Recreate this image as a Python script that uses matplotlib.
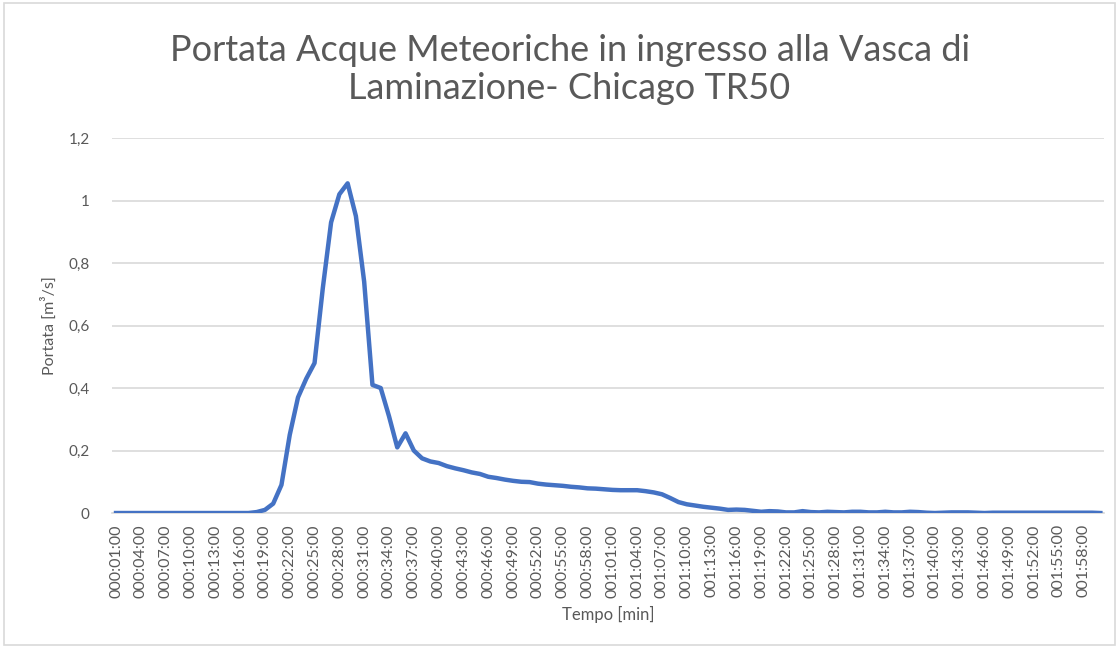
import numpy as np
import matplotlib.pyplot as plt
from matplotlib.ticker import FuncFormatter

# minutes 1..120, values (m3/s)
minuti = list(range(1, 121))
portata = [0.0] * 17 + [
    0.003, 0.010, 0.030, 0.090, 0.250, 0.370, 0.430, 0.480, 0.720, 0.930,   # 18-27
    1.020, 1.055, 0.950, 0.740, 0.410, 0.400, 0.310, 0.210, 0.255, 0.200,   # 28-37
    0.175, 0.165, 0.160, 0.150, 0.143, 0.137, 0.130, 0.125, 0.116, 0.112,   # 38-47
    0.107, 0.103, 0.100, 0.099, 0.094, 0.091, 0.089, 0.087, 0.084, 0.082,   # 48-57
    0.079, 0.078, 0.076, 0.074, 0.073, 0.073, 0.073, 0.070, 0.066, 0.060,   # 58-67
    0.048, 0.035, 0.028, 0.024, 0.020, 0.017, 0.014, 0.010, 0.011, 0.010,   # 68-77
    0.007, 0.004, 0.006, 0.005, 0.002, 0.002, 0.006, 0.003, 0.002, 0.004,   # 78-87
    0.003, 0.002, 0.004, 0.004, 0.002, 0.002, 0.004, 0.002, 0.002, 0.004,   # 88-97
    0.003, 0.001, 0.000, 0.001, 0.002, 0.002, 0.002, 0.001, 0.000, 0.001,   # 98-107
    0.001, 0.001, 0.001, 0.001, 0.001, 0.001, 0.001, 0.001, 0.001, 0.001,   # 108-117
    0.001, 0.001, 0.000,                                                     # 118-120
]
etichette = ["%03d:%02d:00" % (m // 60, m % 60) for m in minuti]

plt.rcParams['font.family'] = ['Lato', 'DejaVu Sans']
grigio = '#595959'

fig = plt.figure(figsize=(11.19, 6.48), dpi=100)
ax = fig.add_axes([0.100, 0.2083, 0.887, 0.5787])

x = np.arange(len(minuti))
ax.plot(x, portata, color='#4472C4', lw=3.2, solid_joinstyle='round', zorder=3)

ax.set_xlim(-0.5, len(minuti) - 0.5)
ax.set_ylim(0, 1.2)
ax.set_yticks(np.arange(0, 1.21, 0.2))
ax.yaxis.set_major_formatter(FuncFormatter(
    lambda v, p: '0' if abs(v) < 1e-9 else ('%g' % round(v, 1)).replace('.', ',')))
ax.set_xticks(x[::3])
ax.set_xticklabels(etichette[::3], rotation=90)

ax.grid(axis='y', color='#D9D9D9', lw=1.2)
ax.set_axisbelow(True)
for s in ['top', 'right', 'left']:
    ax.spines[s].set_visible(False)
ax.spines['bottom'].set_color('#D9D9D9')
ax.spines['bottom'].set_linewidth(1.2)
ax.tick_params(length=0, colors=grigio, labelsize=11)
ax.tick_params(axis='x', labelsize=11.5, pad=8)
ax.tick_params(axis='y', pad=16)

ax.set_ylabel('Portata [m³/s]', color=grigio, fontsize=11.5, labelpad=8)
ax.set_xlabel('Tempo [min]', color=grigio, fontsize=12, labelpad=6)

fig.suptitle('Portata Acque Meteoriche in ingresso alla Vasca di\nLaminazione- Chicago TR50',
             x=0.509, y=0.948, fontsize=26, color=grigio, linespacing=1.2)

# chart area border
fig.patches.append(plt.Rectangle((0.004, 0.004), 0.992, 0.992, transform=fig.transFigure,
                                 fill=False, edgecolor='#D9D9D9', lw=1.2))

fig.savefig('out.png', dpi=100)
